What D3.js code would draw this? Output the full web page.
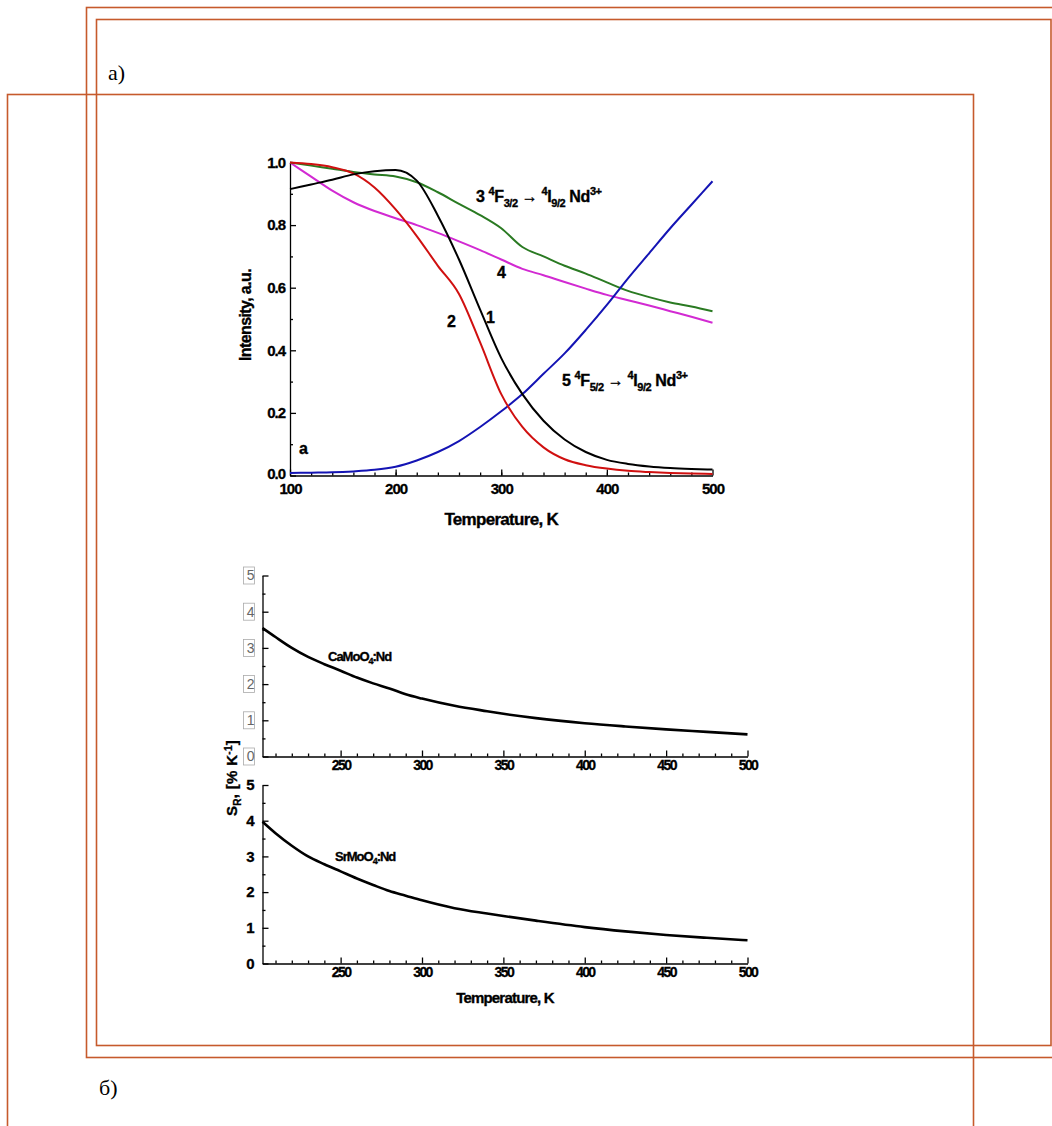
<!DOCTYPE html>
<html>
<head>
<meta charset="utf-8">
<script src="https://cdn.jsdelivr.net/npm/d3@7"></script>
<style>
    body { margin: 0; background: #fff; }
    svg { display: block; }
    .tick-bold text { font: bold 15px "Liberation Sans", Arial, sans-serif; letter-spacing: -1px; fill: #000; stroke: #000; stroke-width: 0.3px; }
    .ax path, .ax line { stroke: #000; stroke-width: 1.3; }
</style>
</head>
<body>
<div id="chart"></div>
<script>
// --- top chart (a): normalized intensity vs temperature
const temps = [100, 120, 140, 160, 180, 200, 220, 240, 260, 280, 300, 320, 340, 360, 380, 400, 420, 440, 460, 480, 500];
const curve1 = [0.915, 0.93, 0.945, 0.962, 0.972, 0.976, 0.942, 0.83, 0.69, 0.53, 0.375, 0.26, 0.175, 0.115, 0.075, 0.05, 0.037, 0.029, 0.024, 0.021, 0.019];
const curve2 = [1.0, 0.995, 0.985, 0.965, 0.92, 0.85, 0.765, 0.67, 0.58, 0.425, 0.26, 0.155, 0.09, 0.052, 0.033, 0.022, 0.015, 0.011, 0.008, 0.006, 0.005];
const curve3 = [1.0, 0.99, 0.98, 0.97, 0.962, 0.955, 0.937, 0.905, 0.868, 0.832, 0.79, 0.73, 0.7, 0.67, 0.645, 0.617, 0.59, 0.57, 0.553, 0.54, 0.525];
const curve4 = [1.0, 0.955, 0.91, 0.873, 0.845, 0.822, 0.8, 0.775, 0.748, 0.72, 0.69, 0.66, 0.64, 0.618, 0.597, 0.577, 0.56, 0.543, 0.525, 0.507, 0.488];
const curve5 = [0.008, 0.009, 0.01, 0.013, 0.018, 0.028, 0.048, 0.075, 0.11, 0.155, 0.205, 0.26, 0.325, 0.39, 0.465, 0.545, 0.63, 0.71, 0.79, 0.865, 0.94];
const topXTicks = [100, 200, 300, 400, 500];
const topYTicks = [0, 0.2, 0.4, 0.6, 0.8, 1.0];

// --- bottom charts (b): relative sensitivity
const sensTemps = [202, 210, 220, 230, 240, 250, 260, 270, 280, 290, 300, 320, 340, 350, 370, 400, 425, 450, 475, 500];
const caSens = [3.55, 3.3, 3.0, 2.75, 2.55, 2.37, 2.18, 2.02, 1.88, 1.72, 1.6, 1.4, 1.25, 1.18, 1.06, 0.92, 0.83, 0.75, 0.68, 0.61];
const srSens = [3.97, 3.65, 3.3, 3.0, 2.78, 2.58, 2.38, 2.2, 2.03, 1.9, 1.77, 1.55, 1.4, 1.33, 1.2, 1.02, 0.9, 0.8, 0.72, 0.65];
const sensXTicks = [250, 300, 350, 400, 450, 500];
const sensYTicks = [0, 1, 2, 3, 4, 5];

const W = 1052, H = 1126;
const frameColor = '#c65a2c';
const boldFont = '"Liberation Sans", Arial, sans-serif';

const svg = d3.select('#chart').append('svg')
    .attr('width', W)
    .attr('height', H);

// page frames
[
    { x: 86.5, y: 7.5, w: 1000, h: 1050 },
    { x: 96.5, y: 19.5, w: 954.5, h: 1026 },
    { x: 7.5, y: 94.5, w: 966, h: 1100 }
].forEach(f => {
    svg.append('rect')
        .attr('x', f.x).attr('y', f.y)
        .attr('width', f.w).attr('height', f.h)
        .attr('fill', 'none')
        .attr('stroke', frameColor)
        .attr('stroke-width', 1.6);
});

svg.append('text').attr('x', 108).attr('y', 80)
    .style('font', '22px "Liberation Serif", "Times New Roman", serif')
    .text('а)');
svg.append('text').attr('x', 99).attr('y', 1095)
    .style('font', '22px "Liberation Serif", "Times New Roman", serif')
    .text('б)');

// heavy bold text helper (the scanned figure has very dark glyphs)
const heavy = sel => sel.style('stroke', '#000').style('stroke-width', '0.35px');

// ---------- top chart ----------
const x = d3.scaleLinear().domain([100, 500]).range([290, 712.5]);
const y = d3.scaleLinear().domain([0, 1]).range([475.5, 162.5]);

const gTop = svg.append('g');

gTop.append('g')
    .attr('class', 'ax')
    .attr('transform', `translate(0,${y(0)})`)
    .call(d3.axisBottom(x).tickValues(d3.range(120, 500, 20)).tickSize(-3).tickFormat(''))
    .call(g => g.select('.domain').remove());
gTop.append('g')
    .attr('class', 'ax tick-bold')
    .attr('transform', `translate(0,${y(0)})`)
    .call(d3.axisBottom(x).tickValues(topXTicks).tickSizeInner(-6).tickSizeOuter(0).tickPadding(8).tickFormat(d3.format('d')));

gTop.append('g')
    .attr('class', 'ax')
    .attr('transform', `translate(${x(100)},0)`)
    .call(d3.axisLeft(y).tickValues(d3.range(0.1, 1, 0.2)).tickSize(-3).tickFormat(''))
    .call(g => g.select('.domain').remove());
gTop.append('g')
    .attr('class', 'ax tick-bold')
    .attr('transform', `translate(${x(100)},0)`)
    .call(d3.axisLeft(y).tickValues(topYTicks).tickSizeInner(-6).tickSizeOuter(0).tickPadding(5).tickFormat(d3.format('.1f')))
    .call(g => g.selectAll('.tick text').filter(d => d === 0).attr('dy', '0.2em'));

const lineTop = d3.line()
    .x((d, i) => x(temps[i]))
    .y(d => y(d))
    .curve(d3.curveMonotoneX);

[
    { data: curve4, color: '#d22ad2' },
    { data: curve3, color: '#2a7a22' },
    { data: curve5, color: '#1414b4' },
    { data: curve2, color: '#d01010' },
    { data: curve1, color: '#000000' }
].forEach(c => {
    gTop.append('path')
        .datum(c.data)
        .attr('fill', 'none')
        .attr('stroke', c.color)
        .attr('stroke-width', 2)
        .attr('d', lineTop);
});

gTop.append('text')
    .attr('transform', `translate(251,${(y(0) + y(1)) / 2 - 4}) rotate(-90)`)
    .attr('text-anchor', 'middle')
    .style('font', `bold 16px ${boldFont}`)
    .style('letter-spacing', '-0.6px')
    .call(heavy)
    .text('Intensity, a.u.');
gTop.append('text')
    .attr('x', (x(100) + x(500)) / 2).attr('y', 525)
    .attr('text-anchor', 'middle')
    .style('font', `bold 17px ${boldFont}`)
    .style('letter-spacing', '-0.7px')
    .call(heavy)
    .text('Temperature, K');

// curve labels
const curveLabels = [
    { t: '1', x: 486, y: 323 },
    { t: '2', x: 447, y: 327 },
    { t: '4', x: 497, y: 278 },
    { t: 'a', x: 299, y: 454 }
];
curveLabels.forEach(l => {
    gTop.append('text').attr('x', l.x).attr('y', l.y)
        .style('font', `bold 16px ${boldFont}`)
        .call(heavy)
        .text(l.t);
});

function transitionLabel(g, px, py, num, fSub, iSub) {
    const t = g.append('text').attr('x', px).attr('y', py)
        .style('font', `bold 16px ${boldFont}`)
        .style('letter-spacing', '-0.4px')
        .call(heavy);
    t.append('tspan').text(num + ' ');
    t.append('tspan').attr('dy', -7).style('font-size', '11px').text('4');
    t.append('tspan').attr('dy', 7).text('F');
    t.append('tspan').attr('dy', 5).style('font-size', '11px').text(fSub);
    t.append('tspan').attr('dy', -5).text(' \u2192 ');
    t.append('tspan').attr('dy', -7).style('font-size', '11px').text('4');
    t.append('tspan').attr('dy', 7).text('I');
    t.append('tspan').attr('dy', 5).style('font-size', '11px').text(iSub);
    t.append('tspan').attr('dy', -5).text(' Nd');
    t.append('tspan').attr('dy', -7).style('font-size', '11px').text('3+');
}
transitionLabel(gTop, 476, 202, '3', '3/2', '9/2');
transitionLabel(gTop, 562, 386, '5', '5/2', '9/2');

// ---------- bottom charts ----------
const xs = d3.scaleLinear().domain([202, 500]).range([262.5, 747.5]);
const panels = [
    { data: caSens, y0: 756.5, y5: 575.5, boxed: true, label: 'CaMoO', lx: 328, ly: 661 },
    { data: srSens, y0: 963.5, y5: 785, boxed: false, label: 'SrMoO', lx: 335, ly: 861 }
];

panels.forEach(p => {
    const ys = d3.scaleLinear().domain([0, 5]).range([p.y0, p.y5]);
    const g = svg.append('g');

    g.append('g')
        .attr('class', 'ax')
        .attr('transform', `translate(0,${p.y0})`)
        .call(d3.axisBottom(xs).tickValues(d3.range(210, 500, 10).filter(v => v % 50 !== 0)).tickSize(-3).tickFormat(''))
        .call(g2 => g2.select('.domain').remove());
    g.append('g')
        .attr('class', 'ax tick-bold')
        .attr('transform', `translate(0,${p.y0})`)
        .call(d3.axisBottom(xs).tickValues(sensXTicks).tickSizeInner(-6).tickSizeOuter(0).tickPadding(4).tickFormat(d3.format('d')))
        .call(g2 => g2.selectAll('text').style('font-size', '14px').style('letter-spacing', '-1.6px'));

    g.append('g')
        .attr('class', 'ax')
        .attr('transform', `translate(${xs(202)},0)`)
        .call(d3.axisLeft(ys).tickValues(d3.range(0.5, 5, 1)).tickSize(-3).tickFormat(''))
        .call(g2 => g2.select('.domain').remove());
    const yAx = g.append('g')
        .attr('class', 'ax tick-bold')
        .attr('transform', `translate(${xs(202)},0)`)
        .call(d3.axisLeft(ys).tickValues(sensYTicks).tickSizeInner(-6).tickSizeOuter(0).tickPadding(9).tickFormat(d3.format('d')));

    if (p.boxed) {
        yAx.selectAll('.tick text')
            .style('font', `14px ${boldFont}`)
            .style('fill', '#666')
            .style('stroke', 'none');
        yAx.selectAll('.tick').insert('rect', 'text')
            .attr('x', -19).attr('y', -9)
            .attr('width', 11).attr('height', 17)
            .attr('fill', '#fff')
            .attr('stroke', '#aaa')
            .attr('stroke-width', 0.8);
    }

    const line = d3.line()
        .x((d, i) => xs(sensTemps[i]))
        .y(d => ys(d))
        .curve(d3.curveMonotoneX);
    g.append('path')
        .datum(p.data)
        .attr('fill', 'none')
        .attr('stroke', '#000')
        .attr('stroke-width', 2.6)
        .attr('d', line);

    const t = g.append('text').attr('x', p.lx).attr('y', p.ly)
        .style('font', `bold 13px ${boldFont}`)
        .style('letter-spacing', '-1px')
        .call(heavy);
    t.append('tspan').text(p.label);
    t.append('tspan').attr('dy', 3).style('font-size', '9px').text('4');
    t.append('tspan').attr('dy', -3).text(':Nd');
});

// shared axis title
const sLabel = svg.append('text')
    .attr('transform', 'translate(237,778) rotate(-90)')
    .attr('text-anchor', 'middle')
    .style('font', `bold 15px ${boldFont}`)
    .style('letter-spacing', '0.3px')
    .call(heavy);
sLabel.append('tspan').text('S');
sLabel.append('tspan').attr('dy', 4).style('font-size', '10px').text('R');
sLabel.append('tspan').attr('dy', -4).text(', [% K');
sLabel.append('tspan').attr('dy', -5).style('font-size', '10px').text('-1');
sLabel.append('tspan').attr('dy', 5).text(']');

svg.append('text')
    .attr('x', 505).attr('y', 1003)
    .attr('text-anchor', 'middle')
    .style('font', `bold 15px ${boldFont}`)
    .style('letter-spacing', '-0.8px')
    .call(heavy)
    .text('Temperature, K');
</script>
</body>
</html>
